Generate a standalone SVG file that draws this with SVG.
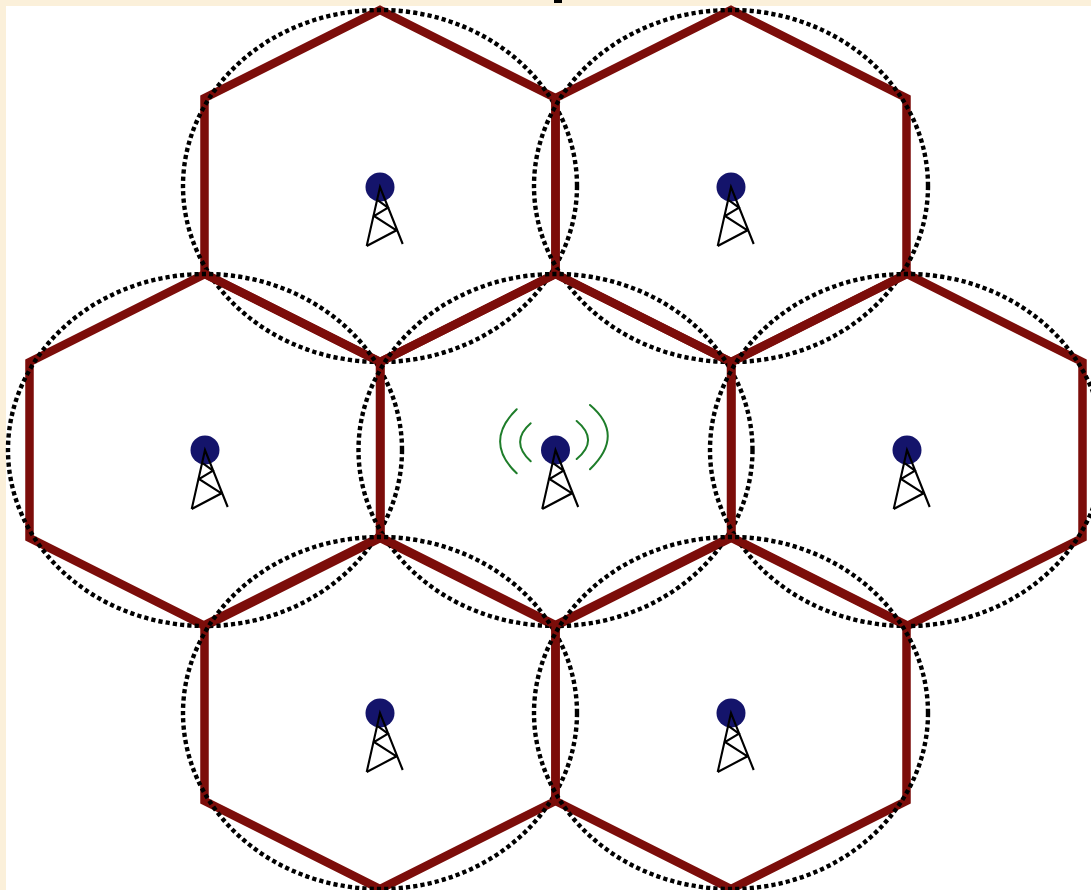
<svg xmlns="http://www.w3.org/2000/svg" width="1091" height="890" viewBox="0 0 1091 890">
<style>
.hex{fill:none;stroke:#7c0d0a;stroke-width:8.5;stroke-linejoin:miter}
.cov{fill:none;stroke:#000;stroke-width:4.4;stroke-dasharray:4.2 3.1}
.dot{fill:#14146b}
.mast{fill:none;stroke:#000;stroke-width:2.1;stroke-linejoin:miter}
.wave{fill:none;stroke:#1e7d2a;stroke-width:2;stroke-linecap:round}
</style>
<defs>
<polygon id="h" class="hex" points="0,-176 175.5,-88 175.5,88 0,176 -175.5,88 -175.5,-88"/>
<g id="tower">
<circle class="dot" r="14.5"/>
<path class="mast" d="M-13.3,59 L0,0 L22.7,57 M-13.3,59 L16.5,43.3 L-6,29 L8,20.7 L-2,13.3"/>
</g>
</defs>
<rect width="1091" height="890" fill="#fff"/>
<path d="M0,0H1091V6H6V890H0Z" fill="#fbf0da"/>
<rect x="554" y="0" width="8" height="3" fill="#000"/>
<g id="connectors"/>
<g id="cell-top-left" transform="translate(380,186)"><use href="#h"/><ellipse class="cov" rx="197" ry="176"/><use href="#tower" y="1"/></g>
<g id="cell-top-right" transform="translate(731,186)"><use href="#h"/><ellipse class="cov" rx="197" ry="176"/><use href="#tower" y="1"/></g>
<g id="cell-left" transform="translate(205,450)"><use href="#h"/><ellipse class="cov" rx="197" ry="176"/><use href="#tower" y="0"/></g>
<g id="cell-centre" transform="translate(555.5,450)"><use href="#h"/><ellipse class="cov" rx="197" ry="176"/><use href="#tower" y="0"/>
<path class="wave" d="M-38.8,-40.7 Q-72,-8.3 -38.8,23.3 M-24.8,-26.7 Q-46,-8.3 -24.8,11.3 M21.2,-29 Q44,-10 21.2,9 M34.5,-45 Q70,-15 34.5,19.3"/></g>
<g id="cell-right" transform="translate(907,450)"><use href="#h"/><ellipse class="cov" rx="197" ry="176"/><use href="#tower" y="0"/></g>
<g id="cell-bottom-left" transform="translate(380,713)"><use href="#h"/><ellipse class="cov" rx="197" ry="176"/><use href="#tower" y="0"/></g>
<g id="cell-bottom-right" transform="translate(731,713)"><use href="#h"/><ellipse class="cov" rx="197" ry="176"/><use href="#tower" y="0"/></g>
</svg>
